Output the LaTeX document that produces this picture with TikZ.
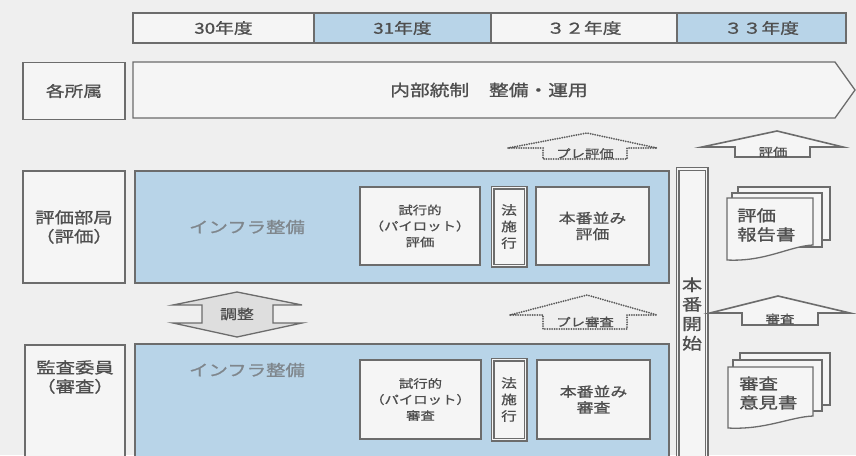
\documentclass[tikz,border=0pt]{standalone}
\usepackage{fontspec}
\setmainfont{Noto Sans CJK JP}[FakeStretch=1.25,FakeBold=1.0]
\definecolor{bg}{HTML}{EFEFEF}
\definecolor{ln}{HTML}{6C6C6C}
\definecolor{tx}{HTML}{4E4E4E}
\definecolor{blu}{HTML}{B8D4E8}
\definecolor{lt}{HTML}{F5F5F5}
\definecolor{infra}{HTML}{7F868C}
\tikzset{
  box/.style={draw=ln, line width=1.3pt, fill=lt, text=tx, inner sep=0pt, align=center},
  bluebox/.style={draw=ln, line width=1.3pt, fill=blu, inner sep=0pt},
  yearcell/.style={draw=ln, line width=1.3pt, text=tx, font=\fontsize{15}{18}\selectfont, inner sep=0pt, minimum height=30pt},
  dbl/.style={draw=ln, double=lt, double distance=1.4pt, line width=1.3pt, fill=lt, text=tx, inner sep=0pt, align=center},
  lbl/.style={text=tx, align=center, inner sep=0pt},
  shapeline/.style={draw=ln, line width=1.3pt, fill=lt, line join=miter},
  blockarrow/.style={draw=ln, line width=1.6pt, fill=lt, line join=miter},
  dotarrow/.style={draw=ln!85!black, line width=2pt, line cap=round, dash pattern=on 0pt off 2.4pt, line join=round},
  doc/.style={draw=ln, line width=1.3pt, fill=lt},
  big/.style={font=\fontsize{15.5}{19}\selectfont},
  mid/.style={font=\fontsize{13.5}{16}\selectfont},
  small/.style={font=\fontsize{11.5}{13}\selectfont},
}
\begin{document}
\begin{tikzpicture}[x=1pt,y=-1pt]
\clip (0,0) rectangle (856,455);
\fill[bg] (0,0) rectangle (856,455);

% year header
\node[yearcell, fill=lt, minimum width=181pt] (y30) at (223.5,28) {30年度};
\node[yearcell, fill=blu, minimum width=177pt] (y31) at (402.5,28) {31年度};
\node[yearcell, fill=lt, minimum width=186pt] (y32) at (584,28) {３２年度};
\node[yearcell, fill=blu, minimum width=169pt] (y33) at (761.5,28) {３３年度};

% row 1
\node[box, font=\fontsize{15}{18}\selectfont, minimum width=102pt, minimum height=57pt] (kaku) at (74,91) {各所属};
\draw[shapeline] (133,62) -- (835,62) -- (855,90) -- (835,118) -- (133,118) -- cycle;
\node[lbl, font=\fontsize{15.8}{18}\selectfont] (naibu) at (489,90) {内部統制　整備・運用};

% row 2
\node[box, big, minimum width=102pt, minimum height=112pt] (hyoka) at (74,227) {評価部局\\（評価）};
\node[bluebox, minimum width=534pt, minimum height=112pt] (blue1) at (402,227) {};
\node[lbl, big, text=infra] (infra1) at (247,227) {インフラ整備};
\node[box, font=\fontsize{11.5}{16}\selectfont, minimum width=120pt, minimum height=78pt] (pilot1) at (420,226) {試行的\\（パイロット）\\評価};
\node[dbl, font=\fontsize{12.5}{16.5}\selectfont, minimum width=33pt, minimum height=78pt] (law1) at (509,226.5) {法\\施\\行};
\node[box, mid, minimum width=113pt, minimum height=78pt] (prod1) at (592.5,226) {本番並み\\評価};

% start column
\node[dbl, font=\fontsize{16}{19.5}\selectfont, minimum width=29pt, minimum height=290pt] (start) at (692,314) {本\\番\\開\\始};

% pre-evaluation arrow (dotted)
\draw[dotarrow] (508,148) -- (587,133) -- (657,148) -- (627,148) -- (627,159) -- (543,159) -- (543,148) -- cycle;
\node[lbl, small] (pre1) at (585,153.5) {プレ評価};

% evaluation arrow
\draw[blockarrow] (702,147) -- (777,131) -- (843,147) -- (810,147) -- (810,157) -- (735,157) -- (735,147) -- cycle;
\node[lbl, small] (ev) at (773,152) {評価};

% evaluation report stack
\draw[doc] (738,187) rectangle (830,240);
\draw[doc] (732,193) rectangle (822,247);
\draw[doc] (727,198) -- (813,198) -- (813,245) .. controls (790,246) and (765,262) .. (727,260) -- cycle;
\node[lbl, big, align=left, anchor=west] (rep1) at (737,225) {評価\\報告書};

% adjustment double arrow
\draw[blockarrow, line width=1.3pt, fill=bg!85!gray] (173,305) -- (237,292) -- (302,305) -- (273,305) -- (273,323) -- (302,323) -- (237,337) -- (173,323) -- (202,323) -- (202,305) -- cycle;
\node[lbl, font=\fontsize{13.5}{15}\selectfont] (chosei) at (237,314) {調整};

% pre-audit arrow (dotted)
\draw[dotarrow] (510,315) -- (587,295) -- (657,315) -- (627,315) -- (627,329) -- (543,329) -- (543,315) -- cycle;
\node[lbl, small] (pre2) at (585,322) {プレ審査};

% audit arrow
\draw[blockarrow] (710,313) -- (778,296) -- (850,313) -- (818,313) -- (818,325) -- (742,325) -- (742,313) -- cycle;
\node[lbl, small] (sh) at (780,319) {審査};

% audit opinion stack
\draw[doc] (740,353) rectangle (830,405);
\draw[doc] (733,360) rectangle (822,411);
\draw[doc] (728,367) -- (813,367) -- (813,416) .. controls (790,417) and (765,430) .. (728,428) -- cycle;
\node[lbl, big, align=left, anchor=west] (rep2) at (739,393) {審査\\意見書};

% row 3
\node[box, minimum width=100pt, minimum height=130pt] (kansa) at (75,410) {};
\node[lbl, big] (kansaT) at (75,377) {監査委員\\（審査）};
\node[bluebox, minimum width=534pt, minimum height=130pt] (blue2) at (402,409) {};
\node[lbl, big, text=infra] (infra2) at (247,370) {インフラ整備};
\node[box, font=\fontsize{11.5}{16}\selectfont, minimum width=121pt, minimum height=79pt] (pilot2) at (420.5,399.5) {試行的\\（パイロット）\\審査};
\node[dbl, font=\fontsize{12.5}{16.5}\selectfont, minimum width=33pt, minimum height=80pt] (law2) at (509,399.5) {法\\施\\行};
\node[box, mid, minimum width=113pt, minimum height=79pt] (prod2) at (593.5,399.5) {本番並み\\審査};
\end{tikzpicture}
\end{document}
